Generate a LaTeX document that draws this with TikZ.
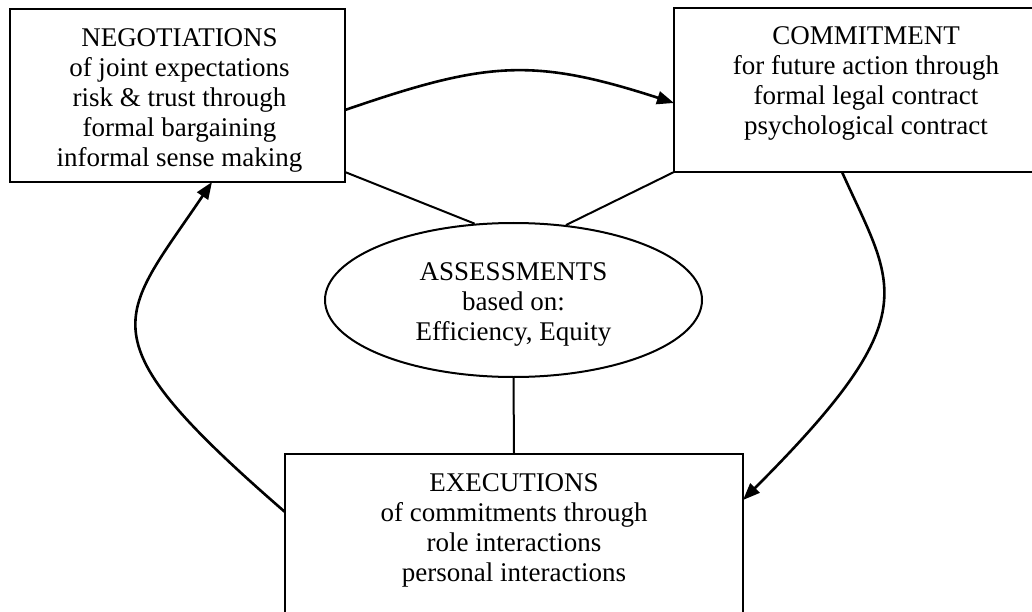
\documentclass[tikz,border=0pt]{standalone}
\usepackage{fontspec}
\setmainfont{Liberation Serif}
\usetikzlibrary{arrows.meta,shapes.geometric,calc}
\begin{document}
\begin{tikzpicture}[x=1pt,y=-1pt,
  box/.style={draw, line width=2pt, rectangle, inner sep=0pt, outer sep=0pt, anchor=north west},
  boxtext/.style={align=center, inner sep=0pt, anchor=north, font=\fontsize{27}{30}\selectfont},
  link/.style={line width=2pt},
  flow/.style={line width=2.6pt, -{Triangle[length=17pt,width=13pt]}},
]
\useasboundingbox (0,0) rectangle (1032,612);
\fill[white] (0,0) rectangle (1032,612);
\clip (0,0) rectangle (1032,612);

% the three process boxes (the right and lower ones run off the page)
\node[box, minimum width=335pt, minimum height=173pt] (neg) at (10,9) {};
\node[box, minimum width=384pt, minimum height=164pt] (commit) at (674,8) {};
\node[box, minimum width=458pt, minimum height=180pt] (exec) at (285,454) {};

\node[boxtext] (negtext) at ($(neg.north)+(2,19)$)
  {NEGOTIATIONS\\of joint expectations\\risk \& trust through\\formal bargaining\\informal sense making};
\node[boxtext] (committext) at ($(commit.north)+(0,18)$)
  {COMMITMENT\\for future action through\\formal legal contract\\psychological contract};
\node[boxtext] (exectext) at ($(exec.north)+(0,19)$)
  {EXECUTIONS\\of commitments through\\role interactions\\personal interactions};

% central assessment
\node[draw, ellipse, line width=2pt, inner sep=0pt, minimum width=377pt, minimum height=154pt] (ell) at (513.5,300) {};
\node[boxtext] (elltext) at ($(ell.north)+(0,40)$) {ASSESSMENTS\\based on:\\Efficiency, Equity};

% links to the assessment
\draw[link] ($(neg.south east)+(0,-10)$) -- (ell.117);
\draw[link] (commit.south west) -- (ell.55);
\draw[link] (ell.south) -- (exec.north);

% the cycle
\draw[flow] ($(neg.east)+(0,14.5)$) .. controls +(141,-48.5) and +(-142,-46) .. ($(commit.west)+(0,13)$);
\draw[flow] ($(commit.south)+(-24,0)$) .. controls +(52,116) and +(186,-186) .. ($(exec.north east)+(0,46)$);
\draw[flow] ($(exec.north west)+(0,58)$) .. controls +(-204,-177) and +(-93,138) .. ($(neg.south)+(34.5,0)$);
\end{tikzpicture}
\end{document}
